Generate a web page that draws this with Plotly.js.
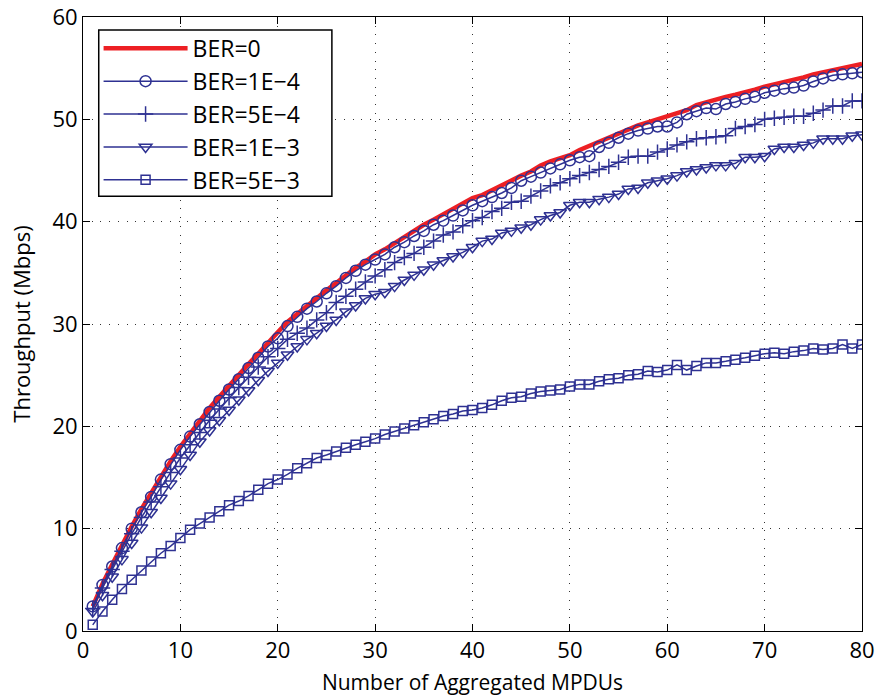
<!DOCTYPE html>
<html>
<head>
<meta charset="utf-8">
<script src="https://cdn.plot.ly/plotly-3.0.1.min.js"></script>
<style>html,body{margin:0;padding:0;background:#fff;}#chart{width:877px;height:700px;}</style>
</head>
<body>
<div id="chart"></div>
<script>
var mpdus = [];
for (var i = 1; i <= 80; i++) mpdus.push(i);

var seriesNames = ["BER=0", "BER=1E\u22124", "BER=5E\u22124", "BER=1E\u22123", "BER=5E\u22123"];

var ber0 = [2.4,4.6,6.5,8.4,10.2,11.9,13.5,15.1,16.6,18.0,
19.3,20.6,21.8,22.9,24.0,25.1,26.1,27.1,28.2,29.2,
30.2,31.0,31.8,32.5,33.3,34.0,34.8,35.5,36.1,36.8,
37.3,37.9,38.5,39.2,39.7,40.2,40.7,41.3,41.8,42.3,
42.6,43.1,43.6,44.1,44.5,44.9,45.5,45.9,46.2,46.5,
47.0,47.4,47.8,48.2,48.7,49.1,49.4,49.7,50.0,50.2,
50.5,50.9,51.4,51.7,51.9,52.2,52.4,52.6,52.9,53.2,
53.4,53.6,53.8,54.1,54.4,54.6,54.8,55.0,55.2,55.4];

var ber1e4 = [2.4,4.5,6.3,8.1,10.0,11.6,13.1,14.8,16.3,17.7,
19.0,20.2,21.4,22.5,23.6,24.6,25.7,26.7,27.8,28.6,
29.8,30.7,31.5,32.2,33.0,33.7,34.5,35.2,35.8,36.3,
36.8,37.5,38.0,38.6,39.1,39.7,40.1,40.6,41.1,41.6,
42.0,42.4,42.8,43.3,44.0,44.4,44.8,45.2,45.6,46.0,
46.3,46.4,47.3,47.7,48.2,48.6,48.9,49.1,49.3,49.3,
49.7,50.5,50.8,51.1,51.0,51.5,51.7,52.0,52.2,52.6,
52.8,53.0,53.1,53.3,53.7,54.0,54.3,54.4,54.5,54.6];

var ber5e4 = [2.2,4.2,6.0,7.8,9.5,11.1,12.6,14.1,15.5,16.9,
18.2,19.4,20.6,21.7,22.8,23.8,24.8,25.8,26.8,27.6,
28.5,29.1,29.6,30.4,31.1,32.1,32.7,33.4,34.1,34.7,
35.3,36.0,36.5,36.9,37.5,38.1,38.7,39.0,39.6,40.1,
40.4,41.0,41.3,41.9,42.0,42.5,43.0,43.5,43.8,44.2,
44.5,44.8,45.1,45.4,45.8,46.3,46.4,46.4,46.8,47.1,
47.5,47.8,48.1,48.2,48.3,48.4,49.1,49.3,49.5,50.0,
50.1,50.2,50.3,50.3,50.6,50.9,51.3,51.3,51.8,51.8];

var ber1e3 = [1.9,3.5,5.3,7.0,8.6,10.1,11.6,13.0,14.4,15.8,
17.2,18.5,19.6,20.6,21.6,22.6,23.5,24.5,25.4,26.2,
27.0,27.8,28.5,29.1,29.8,30.4,31.2,31.8,32.5,32.9,
33.1,33.7,34.3,34.8,35.3,35.8,36.2,36.6,37.0,37.5,
38.1,38.3,38.9,39.1,39.4,39.7,40.2,40.6,40.9,41.6,
41.9,41.9,42.2,42.4,42.7,43.2,43.3,43.8,44.0,44.2,
44.5,44.9,45.1,45.3,45.5,45.5,45.7,46.3,46.3,46.4,
47.1,47.3,47.3,47.5,47.7,48.1,48.1,48.1,48.4,48.5];

var ber5e3 = [0.6,1.9,3.05,4.1,5.0,5.9,6.8,7.6,8.3,9.1,
9.9,10.5,11.1,11.7,12.3,12.7,13.2,13.8,14.4,14.8,
15.3,15.9,16.4,16.9,17.2,17.55,17.9,18.2,18.5,18.8,
19.2,19.5,19.8,20.1,20.4,20.7,21.0,21.2,21.5,21.6,
21.8,22.1,22.5,22.8,22.9,23.2,23.4,23.5,23.6,23.9,
24.1,24.1,24.4,24.6,24.7,25.0,25.1,25.4,25.3,25.5,
26.0,25.5,25.9,26.2,26.2,26.35,26.5,26.7,26.9,27.1,
27.2,27.1,27.3,27.4,27.6,27.5,27.6,28.0,27.6,28.0];

var xTicks = [0,10,20,30,40,50,60,70,80];
var yTicks = [0,10,20,30,40,50,60];

var blue = 'rgb(46,49,146)';
var red = 'rgb(237,32,36)';
var fontFam = '"Open Sans", "Liberation Sans", sans-serif';

function blueTrace(y, name, symbol, size) {
  return {
    x: mpdus, y: y, name: name, type: 'scatter', mode: 'lines+markers',
    line: {color: blue, width: 1.5},
    marker: {symbol: symbol, size: size, color: blue, line: {color: blue, width: 1.5}}
  };
}

var traces = [
  {x: mpdus, y: ber0, name: seriesNames[0], type: 'scatter', mode: 'lines',
   line: {color: red, width: 4.5}},
  blueTrace(ber1e4, seriesNames[1], 'circle-open', 11),
  blueTrace(ber5e4, seriesNames[2], 'cross-thin-open', 11),
  blueTrace(ber1e3, seriesNames[3], 'triangle-down-open', 11),
  blueTrace(ber5e3, seriesNames[4], 'square-open', 9)
];

var axisCommon = {
  showline: true, linecolor: '#000', linewidth: 1, mirror: 'allticks',
  ticks: 'inside', ticklen: 7, tickwidth: 1, tickcolor: '#000',
  showgrid: true, gridcolor: '#333', griddash: '1px,7.7px', gridwidth: 1,
  zeroline: false, tickfont: {family: fontFam, size: 22, color: '#000'}
};

var layout = {
  width: 877, height: 700,
  margin: {l: 83, r: 15, t: 17, b: 69},
  paper_bgcolor: '#fff', plot_bgcolor: '#fff',
  showlegend: true,
  legend: {
    x: 0.02, y: 0.984, xanchor: 'left', yanchor: 'top',
    bgcolor: 'rgba(0,0,0,0)', borderwidth: 0,
    font: {family: fontFam, size: 23, color: '#000'},
    itemwidth: 84, tracegroupgap: 0
  },
  shapes: [{
    type: 'rect', xref: 'paper', yref: 'paper', layer: 'above',
    x0: 0.0202, x1: 0.3195, y0: 0.708, y1: 0.979,
    fillcolor: '#fff', line: {color: '#000', width: 1.5}
  }],
  xaxis: Object.assign({}, axisCommon, {
    range: [0, 80], tickvals: xTicks, ticktext: xTicks.map(String),
    title: {text: 'Number of Aggregated MPDUs', font: {family: fontFam, size: 21, color: '#000'}, standoff: 11}
  }),
  yaxis: Object.assign({}, axisCommon, {
    range: [0, 60], tickvals: yTicks, ticktext: yTicks.map(String),
    title: {text: 'Throughput (Mbps)', font: {family: fontFam, size: 22, color: '#000'}, standoff: 15}
  })
};

Plotly.newPlot('chart', traces, layout, {displayModeBar: false, staticPlot: true});
</script>
</body>
</html>
